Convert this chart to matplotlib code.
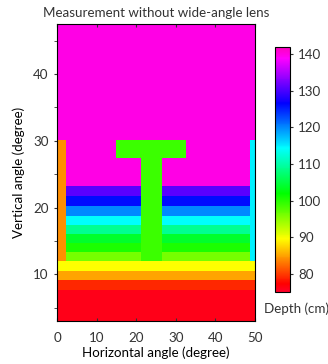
import numpy as np
import matplotlib.pyplot as plt

plt.rcParams["font.family"] = ["Lato", "DejaVu Sans"]
plt.rcParams["text.color"] = "#333333"
plt.rcParams["xtick.color"] = "#333333"
plt.rcParams["ytick.color"] = "#333333"

# horizontal depth bands across the scene (vertical angle in degree, depth in cm)
band_lower = [3.0, 7.7, 9.1, 10.5, 11.9, 13.3, 14.6, 16.0, 17.4, 18.7, 20.2, 21.6, 23.2]
band_depth = [76, 79, 85, 89.5, 96, 100.5, 104, 109, 114, 120, 126, 131, 140]

# side posts (horizontal range, vertical range, depth)
left_post_x = [0.0, 2.3]
right_post_x = [48.8, 50.0]
post_y = [11.9, 30.0]
left_post_depth = 84
right_post_depth = 115

# the "T" shaped object
t_bar_x = [15.0, 32.7]
t_bar_y = [27.3, 30.0]
t_stem_x = [21.1, 26.4]
t_stem_y = [11.9, 27.3]
t_depth = 99

x_range = [0, 50]
y_range = [3.0, 47.5]

# build the depth map
step = 0.05
xs = np.arange(x_range[0], x_range[1], step) + step / 2
ys = np.arange(y_range[0], y_range[1], step) + step / 2
X, Y = np.meshgrid(xs, ys)
depth = np.zeros_like(X)
for lo, d in zip(band_lower, band_depth):
    depth[Y >= lo] = d


def box(xr, yr):
    return (X >= xr[0]) & (X < xr[1]) & (Y >= yr[0]) & (Y < yr[1])


depth[box(left_post_x, post_y)] = left_post_depth
depth[box(right_post_x, post_y)] = right_post_depth
depth[box(t_bar_x, t_bar_y)] = t_depth
depth[box(t_stem_x, t_stem_y)] = t_depth

fs = 9.6
fig = plt.figure(figsize=(3.28, 3.64), dpi=100)
ax = fig.add_axes([0.174, 0.118, 0.603, 0.816])
im = ax.imshow(depth, origin="lower", aspect="auto", cmap="gist_rainbow",
               vmin=75, vmax=142, interpolation="nearest",
               extent=[x_range[0], x_range[1], y_range[0], y_range[1]])

ax.set_xlim(x_range)
ax.set_ylim(y_range)
ax.set_xticks([0, 10, 20, 30, 40, 50])
ax.set_yticks([10, 20, 30, 40])
ax.set_yticks([5, 15, 25, 35, 45], minor=True)
ax.tick_params(axis="x", length=0, labelsize=fs, pad=8)
ax.tick_params(axis="y", which="both", length=2.5, labelsize=fs)
ax.tick_params(axis="x", top=True, direction="in", length=2.5, labeltop=False)

ax.set_xlabel("Horizontal angle (degree)", fontsize=fs, labelpad=2)
ax.set_ylabel("Vertical angle (degree)", fontsize=fs, labelpad=6)
ax.set_title("Measurement without wide-angle lens", fontsize=fs, pad=5)

cax = fig.add_axes([0.838, 0.198, 0.046, 0.673])
cb = fig.colorbar(im, cax=cax)
cb.set_ticks([80, 90, 100, 110, 120, 130, 140])
cax.tick_params(labelsize=fs, length=2.5)
fig.text(0.805, 0.152, "Depth (cm)", ha="left", va="center", fontsize=fs)

fig.savefig("out.png", dpi=100)
